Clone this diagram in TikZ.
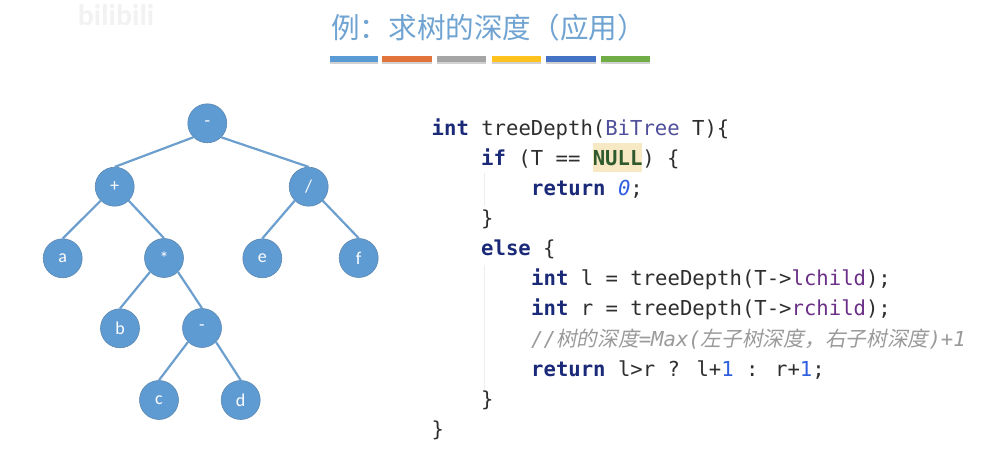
\documentclass[tikz,border=0pt]{standalone}
\usepackage{fontspec}
\setmainfont{Carlito}
\newfontfamily\codefont{DejaVu Sans Mono}
\newfontfamily\cjkfont{Noto Sans CJK SC}
\newfontfamily\cjkslant[FakeSlant=0.2]{Noto Sans CJK SC}
\definecolor{treeblue}{HTML}{5F9BD3}
\definecolor{edgeblue}{HTML}{6C9FCE}
\definecolor{titleblue}{HTML}{6FA3D2}
\definecolor{kw}{HTML}{1B2A78}
\definecolor{txt}{HTML}{2E2E2E}
\definecolor{typec}{HTML}{4F4F9C}
\definecolor{nullc}{HTML}{2F5A2E}
\definecolor{nullbg}{HTML}{F6E9C4}
\definecolor{numc}{HTML}{2F5FE0}
\definecolor{fieldc}{HTML}{6B2F87}
\definecolor{commentc}{HTML}{9A9A9A}
\newcommand{\K}[1]{\textcolor{kw}{\textbf{#1}}}
\newcommand{\N}[1]{\textcolor{numc}{#1}}
\newcommand{\F}[1]{\textcolor{fieldc}{#1}}
\newcommand{\CJ}[1]{{\cjkslant\fontsize{20.7}{22}\selectfont #1}}
\tikzset{
  treenode/.style={circle,fill=treeblue,draw=edgeblue!85!black,line width=.6pt,minimum size=39pt,inner sep=0pt,text=white,font=\fontsize{18}{18}\selectfont},
  treeedge/.style={draw=edgeblue,line width=2.2pt},
  codeline/.style={anchor=base west,inner sep=0pt,text=txt,font=\codefont\fontsize{20.6}{24}\selectfont},
  guide/.style={draw=black!7,line width=1pt},
}
\begin{document}
\begin{tikzpicture}[x=1pt,y=-1pt]
\useasboundingbox (0,0) rectangle (991,468);
\fill[white] (0,0) rectangle (991,468);
\node[text=black!5,font=\bfseries\fontsize{30}{30}\selectfont,inner sep=0pt] (wm) at (116,15) {bilibili};
\node[text=titleblue,font=\cjkfont\fontsize{28.6}{29}\selectfont,inner sep=0pt] (title) at (488.5,27.5) {例：求树的深度（应用）};
\foreach \n/\x/\w/\c in {b1/354/48/5B9BD5,b2/407/50/E0743A,b3/461.5/49/A5A5A5,b4/516.5/49/FFC21E,b5/571/50/4472C4,b6/625.5/49/70AD47}{
  \definecolor{barc}{HTML}{\c}
  \fill[black!18] (\x-\w/2,58) rectangle (\x+\w/2,64);
  \node[fill=barc,minimum width=\w pt,minimum height=5.5pt,inner sep=0pt] (\n) at (\x,59) {};
}
% tree
\node[treenode] (root) at (207.3,123.3) {-};
\node[treenode] (plus) at (114.7,186.7) {+};
\node[treenode] (div) at (308.7,186.7) {/};
\node[treenode] (a) at (62.7,258.3) {a};
\node[treenode] (mul) at (164,258) {*};
\node[treenode] (e) at (262.3,258.3) {e};
\node[treenode] (f) at (358.7,258) {f};
\node[treenode] (b) at (120,328.3) {b};
\node[treenode] (minus) at (202,328) {-};
\node[treenode] (c) at (159,400) {c};
\node[treenode] (d) at (240.7,400) {d};
\foreach \p/\q in {root/plus,plus/a,div/e,mul/b,minus/c}
  \draw[treeedge] (\p.south west) -- (\q.north);
\foreach \p/\q in {root/div,plus/mul,div/f,mul/minus,minus/d}
  \draw[treeedge] (\p.south east) -- (\q.north);
% code guides
\coordinate (g1a) at (484,173); \coordinate (g1b) at (484,206);
\coordinate (g2a) at (484,265); \coordinate (g2b) at (484,392);
\draw[guide] (g1a) -- (g1b);
\draw[guide] (g2a) -- (g2b);
\fill[nullbg] (592.5,143) rectangle (642,172.5);
% code
\node[codeline] (l1) at (431.5,135.2) {\K{int} treeDepth(\textcolor{typec}{BiTree} T)\{};
\node[codeline] (l2) at (481,165.2) {\K{if} (T == \textbf{\textcolor{nullc}{NULL}}) \{};
\node[codeline] (l3) at (531,195.2) {\K{return} \textit{\N{0}};};
\node[codeline] (l4) at (481,225.2) {\}};
\node[codeline] (l5) at (481,255.2) {\K{else} \{};
\node[codeline] (l6) at (531,285.7) {\K{int} l = treeDepth(T->\F{lchild});};
\node[codeline] (l7) at (531,315.7) {\K{int} r = treeDepth(T->\F{rchild});};
\node[codeline,text=commentc] (l8) at (531,346.2) {\textit{//\CJ{树的深度}=Max(\CJ{左子树深度，右子树深度})+1}};
\node[codeline] (l9) at (531,376.2) {\K{return} l>r ? l+\N{1} : r+\N{1};};
\node[codeline] (l10) at (481,406.2) {\}};
\node[codeline] (l11) at (431.5,436.2) {\}};
\end{tikzpicture}
\end{document}
